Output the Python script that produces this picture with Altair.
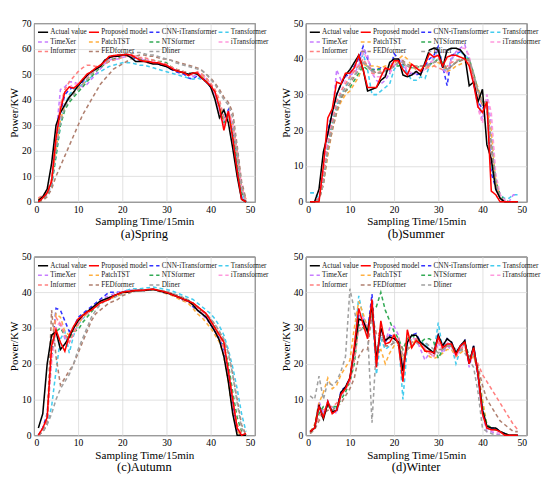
import altair as alt
import pandas as pd

time_steps = list(range(1, 49))

series_names = ["Actual value", "Proposed model", "CNN-iTransformer", "Transformer",
                "TimeXer", "PatchTST", "NTSformer", "iTransformer",
                "Informer", "FEDformer", "Dliner"]
series_colors = ["#000000", "#ff0000", "#3333ff", "#44ccee",
                 "#c77dff", "#ffb040", "#33aa55", "#ff99dd",
                 "#ff8080", "#b08070", "#a0a0a0"]

# ---------------- Spring ----------------
spring_actual = [0.5,2,5,15,30,35,38,41,43,45.5,47.5,49.5,51,52,53,55.5,56.5,57,57,57.5,57.5,56.5,55,55,55,54.5,54,54,53.5,53,52,51.5,51,50.5,50,50.5,50,48.5,47,45,40,33,36,31,21,10,1,0]
spring_proposed = [0,1.5,3.5,8,25,36,43,45,44.5,46,48,50,51,52.5,53.5,55,57,57.3,57.5,57.5,57.8,57.5,56.5,55.5,55,55,54.5,54.5,54,53.5,52.5,51.5,51,50.5,49.5,50.5,50.5,48.5,47,45.5,43,37,28,35.5,25,12,1,0]
spring_cnn = [0,1,3,7,22,35,42,44,45,45.5,47,49,50.5,52,53,54.5,56,57,57,57.5,57.5,57,56,55.5,55.5,55,54.5,54,53.5,53,52,51,50.5,50,48.5,48,49.5,48.5,47,45,42,38,32,36,27,14,2,0]
spring_transformer = [0,1,3,6,18,30,38,42,44,45,46,47.5,49,50,51,52,53,53.5,54,54.5,54.5,54.5,54,53.5,53.5,53,52.5,52,51.5,51,50.5,50,49.5,49,48.5,48,48.5,48,47,46,43,38,34,34,28,17,4,0]
spring_timexer = [0.5,1.5,3,7,26,44,45,47,47,46,45,46,48,50,52,54,55.5,56,56,56.5,57,57,56.5,56,55.5,55,54.5,54,54,53.5,52.5,51.5,51,50.5,49.5,49,50,49.5,47.5,45.5,42,36,31,35,25,12,1.5,0]
spring_patchtst = [1,2,4,8,20,32,38,41,43,44.5,46,48,50,51.5,53,54.5,56,56.5,57,57.5,57.5,57.5,57,56,55.5,55,54.5,54.5,54,53.5,52.5,51.5,51,50.5,50,50,50.5,49.5,47.5,45.5,43,38,32,34,29,18,5,1]
spring_ntsformer = [0,1,3,7,18,30,36,39,41,43,45,47,49,51,52.5,54,55,56,56.5,57,57,57,56.5,56,56,55.5,55.5,55,55,54.5,53,52,51.5,51,50.5,50,50.5,50,48.5,46,43,37,31,34,27,16,4,0]
spring_itransformer = [0.5,1.5,3,8,24,38,43,45,46,46.5,47.5,49,50.5,52,53,54.5,55.5,56.5,57,57,57.5,57.5,57,56.5,56,55.5,55,54.5,54,53.5,52.5,52,51,50.5,50,49.5,50.5,50,48.5,46,42,34,30,36,30,20,6,0]
spring_informer = [1.5,2.5,4,9,25,38,44,47,49,51,52.5,53.5,53.5,53,53.5,54,55,55.5,56,56.5,57,57.5,57,56.5,56.5,56,55.5,55,54.5,54,53,52,51.5,51,50.5,50,51,50,48.5,46.5,44,40,33,35,31,20,6,1]
spring_fedformer = [0,0.5,2,5,10,14,18,22,26,30,34,37,40,43,46,48,50,52,53,54,55,56,57,57.5,57.5,57,57,56.5,56,56,55.5,55,54.5,54,53.5,53,52.5,51.5,50,48.5,46.5,44,41,39,35,22,8,1]
spring_dliner = [0.5,1.5,3,7,20,31,37,40,42,44,46,48,50,51.5,53,54.5,56,57,57.5,58,58,58,58.5,58.5,58,57.5,57.5,57,56.5,56,55.5,54.5,54,53.5,53,52.5,52,51.5,50,48,46,43,40,38,33,20,6,0]

# ---------------- Summer ----------------
summer_actual = [0,0,3.5,14,19,25,30,33,35.5,37,39,41,37,31,31.5,32,34,35,39,40,40,35.5,35,35.5,36.5,35.5,39,42.5,43,42.5,37.5,42.5,43,43,42.5,41,32.5,33.5,28,31.5,16,12,3.5,1,0,0,0,0]
summer_proposed = [0,0,0,10,23.5,26,33.5,33,36,36,37.5,41,37,32,32,32,35,37.5,37,39.5,39.5,37,35.5,38.5,37.5,36.5,38.5,41.5,40.5,41,38,40.5,41,41,40.5,40,38,33,26.5,25,28,3,2,0,0,0,0,0]
summer_cnn = [0,0,1,8,20,25,30,33,35,36,38,40,43.5,40,37,37,37.5,37,36,41.5,40,38,36,36,35.5,36,38,40,41,43.5,38,32.5,41,41.5,42,41,40,33,28,26,28,8,4,1,0,0,0,0]
summer_transformer = [2.5,2.5,1,6,16,22,27,30,32,35,37,38,41.5,37,30,30,31,32,33,37,39,38,36,34,34,35,34.5,38,40,43,38,36,40,41,42,41,40,34,27,25,27,10,5,2,1,1,2,2]
summer_timexer = [0,0,1,9,18,24,37,34,35,35.5,36,38,43,41,36,34,33,34,36,38,40,39,36,35.5,36,36,37,38,41,43,37,36,40,42,43,44,40,33,27,23,30,22,6,2,0.5,0,2,2]
summer_patchtst = [0,0,0.5,5,13,20,25,28,30,31,33,35,38.5,38,38,38,37.5,38,38,38.5,40,41,40,38,37,37,37.5,37.5,38,39,38,36.5,37,38,38.5,39,39,35,32,28,27,20,6,1,0,0,0,0]
summer_ntsformer = [0,0,0.5,6,15,22,26,29,31,32,34,36,38,37,37,37,37,37,37.5,38,38,38.5,38,37.5,37.5,38,38,38.5,39,40,39,37,38,39,39.5,40,40,36,31,28,27,16,6,2,0.5,0,0,0]
summer_itransformer = [0,0,1,7,17,23,28,31,34,35,37,39,42,40,36,35,35,35.5,36,38.5,40,39.5,37,36,36.5,36.5,37,38.5,40,42,38,36,40,41.5,43,43,41,34,26,22,30,25,8,2,0.5,0,0,0]
summer_informer = [0,0,1,6,16,22,28,31,33,35,36.5,38,40,38,36,36,36.5,37,37.5,38,39,39,38,37.5,37.5,38,37.5,38,38,37.5,37,38,39,39.5,40,40,39,35,30,27,26,14,5,1,0,0,0,0]
summer_fedformer = [0,0,0.5,5,14,20,25,29,31,33,35,37,39,38,37,36,36,36.5,37,38,39,39.5,38.5,38,38,38,38,38.5,39,39.5,38.5,37,38,39,39.5,40,39.5,35,31,27,27,15,5,1,0,0,0,0]
summer_dliner = [0,0,0.5,5,15,21,26,30,32,34,35.5,37,39,38,36.5,36,36,36.5,37,38,39,39,38,37.5,37.5,38,38,38.5,39,40,39,37,38,39,40,40,40,36,31,28,28,16,6,1,0,0,0,0]

# ---------------- Autumn ----------------
autumn_actual = [2,6,20,28,29,24,25.5,27.5,30,32,33.5,34.5,35.5,36.5,37.5,38,38.5,39,39.5,40,40,40.3,40.5,40.5,40.5,40.7,40.8,40.5,40.2,39.8,39.5,39,38.5,38,37.5,36.5,35,34,33,31,29,26.5,22,15,6,0,0,0]
autumn_proposed = [0,2,5,25,29.5,26,23.5,28,30.5,32.5,33.5,34.5,35,36,37,37.5,38,39,39.5,40,40.2,40.3,40.5,40.5,40.6,40.8,40.9,40.6,40.3,40,39.5,39,38.5,38,37.5,37,36,35,34,32,30,28,26,18,10,2,0,0.5]
autumn_cnn = [0,2,6,22,35.5,35,32,29,30,33,34,35,36,37,38,39,40,40,40,40,40.5,40.5,40.5,40.5,40.5,40.7,40.8,40.5,40,39.8,39.5,39,38.5,37.5,37.5,36,35,34,33,31,29,27,24,17,8,1,0,0]
autumn_transformer = [0,1,3,8,18,27,29,23,28,31,32.5,34,35,36.5,37.5,38,38.5,39,39.5,40,40.5,41,41,41,41.2,41.3,41.5,41.2,41,40.8,40.5,40,39.5,39,38.5,38,37,36,35,34,32.5,30.5,28,24,19,13,6,1]
autumn_timexer = [0,1.5,4,24,30,31,27,26,29,31,33,34,35,36,37.5,38.5,39,39.5,40,40,40.3,40.5,40.5,40.6,40.6,40.7,40.8,40.5,40.2,39.8,39.5,39,38.5,38,37.5,36.5,35,34,32.5,31,29,27,23,16,7,1,0,0]
autumn_patchtst = [0,1.5,4,26,34,33,29,28,29.5,31,33,34,35,36,37,37.5,38,38.5,39,39.5,40,40.2,40.3,40.5,40.5,40.6,40.7,40.4,40,39.6,39.2,38.7,38,37.5,36.8,35.5,34,33,31.5,30,28,26,22,15,6,1,0,0]
autumn_ntsformer = [0,1.5,5,22,29,30,28,27,29,29.5,31.5,33,34.5,36,37,38,38.5,39,39.5,40,40.2,40.4,40.5,40.5,40.6,40.7,40.8,40.6,40.3,40,39.6,39.1,38.6,38,37.5,36.8,35.5,34.5,33.5,32,30,28,25,20,12,5,1,0]
autumn_itransformer = [0,1,4,20,30,32,28,26,28.5,31,33,34,35,36,37,38,38.5,39,39.5,40,40.2,40.4,40.5,40.5,40.6,40.7,40.8,40.5,40.2,39.9,39.5,39,38.5,38,37.5,36.7,35.5,34.5,33.5,31.5,29.5,27.5,24.5,18,9,2,0,0]
autumn_informer = [0,1,4,24,33,31,28,26,28.5,31,33,34,35,36.5,37.5,38,38.5,39,39.5,40,40.3,40.5,40.6,40.6,40.7,40.8,40.8,40.5,40.2,39.8,39.4,38.9,38.4,37.8,37.2,36.5,35.2,34.2,33,31.5,29.5,27.5,24.5,18,10,3,0.5,0]
autumn_fedformer = [0,1,3,35,22,14,16,18,20,23,26,29,32,34,35,36,37,37.5,38,39,39.5,40,40.3,40.5,40.5,40.7,40.8,40.6,40.4,40.2,39.8,39.4,38.9,38.4,37.8,37,36,35,34,32.5,31,29,26.5,23,17,10,3,0]
autumn_dliner = [0,1,3,6,10,13,15,17,20,24,27,30,33,35,36.5,37.5,38,38.5,39,39.5,40,40.2,40.3,40.5,40.5,40.6,40.7,40.6,40.4,40.2,39.8,39.3,38.9,38.4,37.8,37,36,35,34,32.5,31,29,27,23,17,9,2,0]

# ---------------- Winter ----------------
winter_actual = [1,2,8.5,4.5,9,6.5,7,12,13.5,16,24,32.5,32,29,36.5,21,30,26.5,27.5,27,26,18,26,28,28,26,25,24,23,28,25,27,26,23,25,26.5,20,25,17,7,2.5,2,2,1,0.5,0,0,0]
winter_proposed = [1,2,8,5,9.5,6,7,11.5,13,16,25,35.5,31,27,38,19,32,25.5,26,28,25.5,15,29.5,24.5,26.5,25.5,23.5,23.5,23,27.5,24.5,25.5,25.5,22.5,25,26,20,24.5,17,6,2,1.5,1.5,1,0,0,0,0]
winter_cnn = [1,2,8,5,9.5,6.5,7,12.5,13.5,16,24,33.5,33,29,39.5,20,30,26,28,27.5,26,18,26,28,28.5,26,25,24,23,28,25,27,26,23,25,26.5,20,25,17,7,2.5,2,2,1,0.5,0,0,0]
winter_transformer = [1,2,7,6,9,8,7,11,13,15,24,39,33,28,35,17,27,24,25,26,27,10,25,27,27,26,26,24,23,31.5,24,26,25,20,24,26,20,24,16,6,2,1.5,1.5,1,0.5,0,0,0]
winter_timexer = [1,2,9.5,6,9,7.5,6,12,13,15,22,31,31,30,33,22,29,26,30,30.5,28,20,24,26,27,24,21,23,22,26,23,25,24,22,24,26,19,24,16,6,1,1,0.5,0,0,0,0,0]
winter_patchtst = [1,3,9,12,16,13,14,17,19,21,30,37.5,34,30,34,23,24,20,23,25,26,21,24,25,27,25,24,22,21.5,22,23,24,24,22,23,24,21,22,18,10,3,2,1.5,1,0.5,0,0,0]
winter_ntsformer = [0.5,2,6,8,8,8,8,10,12,15,20,31,30,29,35,36,40,35,32,29,27,24,27,28,27,26,27,27,26,21.5,24,25,25,23,24,26,22,23,18,8,3,2,1.5,1,0.5,0,0,0]
winter_itransformer = [1,2,8,5,9,6,7,11,13,15,23,32,33,29,36,22,29,27,28,28,26,19,25,27,27,26,24,23,22,27,24,26,25,22,24,26,20,24,17,7,2,1.5,1,0.5,0,0,0,0]
winter_informer = [0.5,2,5,7,8,8,9,11,13,15,21,30,30,31,33,28,29,27,27,28,27,22,24,26,27,26,24,23,22,26,24,25,25,23,24,25,21,22,20,17,15,13,11,9,7,5,3,1.5]
winter_fedformer = [0.5,1.5,4,6,7,7,8,9,11,13,16,22,24,24,34,28,28,25,25,26,26,24,24,25,26,26,25,24,23,24,24,25,25,23,24,24,22,22,19,14,10,8,6,4,3,2,1,1]
winter_dliner = [11,10,16.5,10,15,14,15,18,22,41,35,29,30,29,3.5,25,27,28,27,26,25,22,24,26,26,25,26,25,24,23,24,25,25,24,24,23,21,19,12,2,1,0.5,0,0,0,0,0,0]

season_series = {
    "spring": [spring_actual, spring_proposed, spring_cnn, spring_transformer, spring_timexer,
               spring_patchtst, spring_ntsformer, spring_itransformer, spring_informer,
               spring_fedformer, spring_dliner],
    "summer": [summer_actual, summer_proposed, summer_cnn, summer_transformer, summer_timexer,
               summer_patchtst, summer_ntsformer, summer_itransformer, summer_informer,
               summer_fedformer, summer_dliner],
    "autumn": [autumn_actual, autumn_proposed, autumn_cnn, autumn_transformer, autumn_timexer,
               autumn_patchtst, autumn_ntsformer, autumn_itransformer, autumn_informer,
               autumn_fedformer, autumn_dliner],
    "winter": [winter_actual, winter_proposed, winter_cnn, winter_transformer, winter_timexer,
               winter_patchtst, winter_ntsformer, winter_itransformer, winter_informer,
               winter_fedformer, winter_dliner],
}

FONT = "Liberation Serif"
dash_range = [[1, 0], [1, 0]] + [[4, 3]] * 9
width_range = [1.6, 1.6] + [1.0] * 9
PW, PH = 230, 186


def make_df(key):
    rows = []
    for name, values in zip(series_names, season_series[key]):
        for t, v in zip(time_steps, values):
            rows.append({"t": t, "power": v, "series": name})
    return pd.DataFrame(rows)


def panel(key, label, ymax):
    df = make_df(key)
    leg = alt.Legend(title=None, orient="top-left", columns=4, direction="horizontal",
                     symbolType="stroke", symbolSize=110, symbolStrokeWidth=1.4,
                     labelFont=FONT, labelFontSize=7.5, labelColor="#222",
                     rowPadding=-2, columnPadding=-6, labelOffset=1, offset=3,
                     padding=0, labelLimit=80)
    enc = dict(
        x=alt.X("t:Q", scale=alt.Scale(domain=[0, 50], nice=False),
                axis=alt.Axis(values=[0, 10, 20, 30, 40, 50], title="Sampling Time/15min")),
        y=alt.Y("power:Q", scale=alt.Scale(domain=[0, ymax], nice=False),
                axis=alt.Axis(values=list(range(0, ymax + 1, 10)), title="Power/KW")),
        color=alt.Color("series:N", scale=alt.Scale(domain=series_names, range=series_colors), legend=leg),
        strokeDash=alt.StrokeDash("series:N", scale=alt.Scale(domain=series_names, range=dash_range), legend=leg),
        strokeWidth=alt.StrokeWidth("series:N", scale=alt.Scale(domain=series_names, range=width_range), legend=None),
    )
    base = alt.Chart(df)
    dashed = base.transform_filter(
        "datum.series != 'Actual value' && datum.series != 'Proposed model'").mark_line().encode(**enc)
    black = base.transform_filter("datum.series == 'Actual value'").mark_line().encode(**enc)
    red = base.transform_filter("datum.series == 'Proposed model'").mark_line().encode(**enc)
    return alt.layer(dashed, black, red).properties(
        width=PW, height=PH,
        title=alt.TitleParams(label, orient="bottom", font=FONT, fontSize=13,
                              fontWeight="normal", offset=1, color="#000"),
    )


pa = panel("spring", "(a)Spring", 70)
pb = panel("summer", "(b)Summer", 50)
pc = panel("autumn", "(c)Autumn", 50)
pd_ = panel("winter", "(d)Winter", 50)

ind = dict(color="independent", strokeDash="independent", strokeWidth="independent")
row1 = alt.hconcat(pa, pb, spacing=10).resolve_scale(**ind).resolve_legend(**ind)
row2 = alt.hconcat(pc, pd_, spacing=10).resolve_scale(**ind).resolve_legend(**ind)

chart = alt.vconcat(row1, row2, spacing=10).resolve_scale(**ind).resolve_legend(**ind).configure_axis(
    labelFont=FONT, labelFontSize=10, labelColor="#000", titleFont=FONT,
    titleFontSize=11.5, titleFontWeight="normal", titleColor="#000",
    gridColor="#d8d8d8", gridWidth=0.8, ticks=False, domain=False, labelPadding=3,
    titlePadding=2,
).configure_view(stroke="#000", strokeWidth=1).properties(padding={"left": 0, "top": 0, "right": 0, "bottom": 0})

chart.save("out.html", embed_options={"renderer": "svg", "actions": False})
